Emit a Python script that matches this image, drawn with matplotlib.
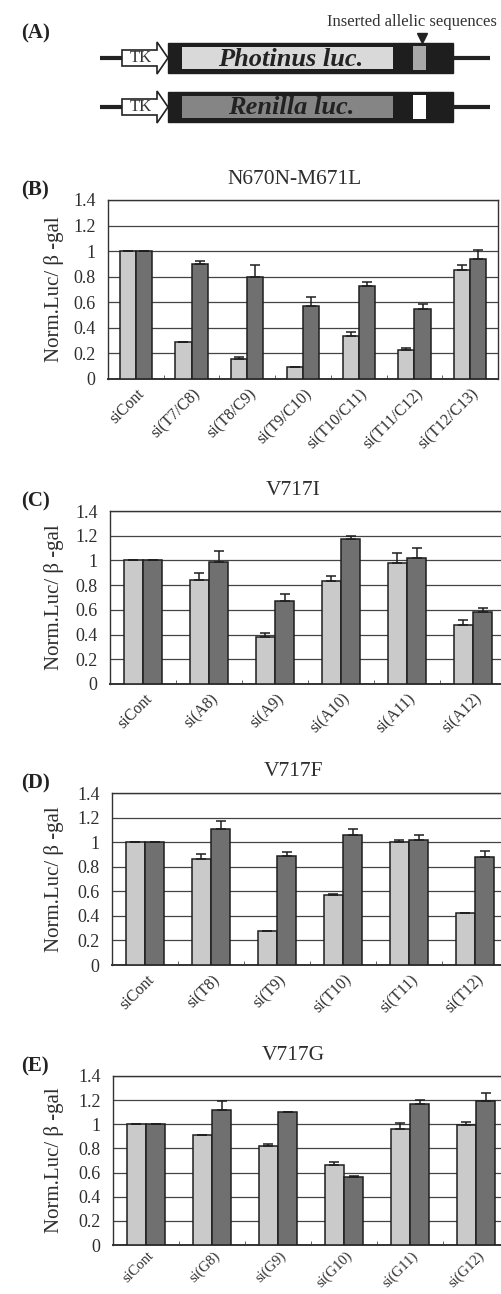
import numpy as np
import matplotlib
matplotlib.use("Agg")
import matplotlib.pyplot as plt
import matplotlib.patches as mpatches
import matplotlib.transforms as mtransforms

plt.rcParams['font.family'] = ['Liberation Serif', 'DejaVu Serif']

# panel B: N670N-M671L
b_cats = ['siCont', 'si(T7/C8)', 'si(T8/C9)', 'si(T9/C10)', 'si(T10/C11)', 'si(T11/C12)', 'si(T12/C13)']
b_light = [1.0, 0.29, 0.16, 0.09, 0.34, 0.23, 0.85]
b_light_err = [0, 0, 0.015, 0, 0.025, 0.01, 0.04]
b_dark = [1.0, 0.90, 0.80, 0.57, 0.73, 0.55, 0.94]
b_dark_err = [0, 0.025, 0.09, 0.07, 0.03, 0.04, 0.07]

# panel C: V717I
c_cats = ['siCont', 'si(A8)', 'si(A9)', 'si(A10)', 'si(A11)', 'si(A12)']
c_light = [1.0, 0.84, 0.38, 0.83, 0.98, 0.475]
c_light_err = [0, 0.06, 0.03, 0.04, 0.08, 0.04]
c_dark = [1.0, 0.99, 0.67, 1.17, 1.02, 0.58]
c_dark_err = [0, 0.085, 0.06, 0.025, 0.08, 0.035]

# panel D: V717F
d_cats = ['siCont', 'si(T8)', 'si(T9)', 'si(T10)', 'si(T11)', 'si(T12)']
d_light = [1.0, 0.86, 0.28, 0.57, 1.0, 0.42]
d_light_err = [0, 0.045, 0, 0.005, 0.015, 0.005]
d_dark = [1.0, 1.11, 0.89, 1.06, 1.015, 0.88]
d_dark_err = [0, 0.06, 0.03, 0.05, 0.04, 0.045]

# panel E: V717G
e_cats = ['siCont', 'si(G8)', 'si(G9)', 'si(G10)', 'si(G11)', 'si(G12)']
e_light = [1.0, 0.91, 0.82, 0.66, 0.965, 0.99]
e_light_err = [0, 0.005, 0.02, 0.03, 0.045, 0.03]
e_dark = [1.0, 1.12, 1.10, 0.565, 1.165, 1.195]
e_dark_err = [0, 0.07, 0.005, 0.005, 0.04, 0.065]

yticks = [0, 0.2, 0.4, 0.6, 0.8, 1, 1.2, 1.4]
ytick_labels = ['0', '0.2', '0.4', '0.6', '0.8', '1', '1.2', '1.4']

W, H = 501, 1294
fig = plt.figure(figsize=(W / 100, H / 100), dpi=100)

LIGHT = '#cacaca'
DARK = '#707070'
INK = '#2e2e2e'


def px_axes(x0, y0, x1, y1):
    return fig.add_axes([x0 / W, 1 - y1 / H, (x1 - x0) / W, (y1 - y0) / H])


def panel(box, letter, title, title_x, cats, light, light_err, dark, dark_err,
          lab_size=11.5, lab_drop=4):
    x0, y0, x1, y1 = box
    ax = px_axes(x0, y0, x1, y1)
    n = len(cats)
    x = np.arange(n)
    w = 0.29
    ax.bar(x - w / 2, light, w, color=LIGHT, edgecolor='#1e1e1e', linewidth=1.1, zorder=3)
    ax.bar(x + w / 2, dark, w, color=DARK, edgecolor='#1e1e1e', linewidth=1.1, zorder=3)
    ax.errorbar(x - w / 2, light, yerr=[np.zeros(n), light_err], fmt='none',
                ecolor='#1e1e1e', elinewidth=1.1, capsize=3.5, capthick=1.1, zorder=4)
    ax.errorbar(x + w / 2, dark, yerr=[np.zeros(n), dark_err], fmt='none',
                ecolor='#1e1e1e', elinewidth=1.1, capsize=3.5, capthick=1.1, zorder=4)
    ax.set_xlim(-0.5, n - 0.5)
    ax.set_ylim(0, 1.4)
    ax.set_yticks(yticks)
    ax.set_yticklabels(ytick_labels, fontsize=13, color=INK)
    ax.yaxis.grid(True, color='#444444', linewidth=0.9, zorder=0)
    ax.tick_params(axis='y', length=0, pad=9)
    ax.set_xticks(x)
    ax.set_xticks(x[:-1] + 0.5, minor=True)
    ax.tick_params(axis='x', which='major', length=0, pad=2)
    ax.tick_params(axis='x', which='minor', direction='in', length=3, color='#444444')
    labels = ax.set_xticklabels(cats, rotation=45, ha='right', va='top',
                                rotation_mode='anchor', fontsize=lab_size, color=INK)
    offset = mtransforms.ScaledTranslation(1 / 100, -lab_drop / 100, fig.dpi_scale_trans)
    for lab in labels:
        lab.set_transform(lab.get_transform() + offset)
    for s in ax.spines.values():
        s.set_color('#333333')
        s.set_linewidth(1.0)
    ax.spines['bottom'].set_linewidth(1.4)
    ax.set_ylabel('Norm.Luc/ β -gal', fontsize=15, color=INK)
    ax.yaxis.set_label_coords((64 - x0) / (x1 - x0), 0.5)
    fig.text(title_x / W, 1 - (y0 - 21) / H, title, fontsize=15.5, ha='center',
             va='center', color=INK)
    fig.text(21 / W, 1 - (y0 - 10) / H, letter, fontsize=15, fontweight='bold',
             ha='left', va='center', color='#222222')
    return ax


panel((108, 200, 498, 379), '(B)', 'N670N-M671L', 295, b_cats, b_light, b_light_err, b_dark, b_dark_err)
panel((110, 511, 506, 684), '(C)', 'V717I', 293, c_cats, c_light, c_light_err, c_dark, c_dark_err)
panel((112, 793, 508, 965), '(D)', 'V717F', 293, d_cats, d_light, d_light_err, d_dark, d_dark_err)
panel((113, 1076, 509, 1245), '(E)', 'V717G', 293, e_cats, e_light, e_light_err, e_dark, e_dark_err,
      lab_size=10.5, lab_drop=1)

# panel A: reporter constructs
axa = fig.add_axes([0, 1 - 140 / H, 1, 140 / H])
axa.set_xlim(0, W)
axa.set_ylim(140, 0)
axa.axis('off')
fig.text(21 / W, 1 - 33 / H, '(A)', fontsize=15, fontweight='bold', ha='left', va='center', color='#222222')

rows = [(58, 'Photinus luc.', '#d9d9d9', '#a8a8a8'), (107, 'Renilla luc.', '#858585', 'white')]
for yc, name, inner, insert in rows:
    axa.plot([100, 122], [yc, yc], color='#222222', lw=3, solid_capstyle='butt')
    axa.plot([453, 490], [yc, yc], color='#222222', lw=3, solid_capstyle='butt')
    arrow = mpatches.Polygon([[122, yc - 8], [157, yc - 8], [157, yc - 16], [168, yc],
                              [157, yc + 16], [157, yc + 8], [122, yc + 8]],
                             closed=True, facecolor='white', edgecolor='#222222', lw=1.2)
    axa.add_patch(arrow)
    axa.text(141, yc, 'TK', fontsize=12, ha='center', va='center', color='#333333')
    axa.add_patch(mpatches.Rectangle((168, yc - 15), 285, 30, facecolor='#1e1e1e', edgecolor='#1e1e1e'))
    axa.add_patch(mpatches.Rectangle((182, yc - 11), 211, 22, facecolor=inner, edgecolor='none'))
    axa.add_patch(mpatches.Rectangle((413, yc - 12), 13, 24, facecolor=insert, edgecolor='none'))
    axa.text(291, yc + 1, name, fontsize=19, fontstyle='italic', fontweight='bold',
             ha='center', va='center', color='#222222')

axa.plot([422], [38], marker='v', markersize=7, color='#222222')
axa.text(412, 22, 'Inserted allelic sequences', fontsize=12, ha='center', va='center', color='#333333')

fig.savefig('out.png', dpi=100)
